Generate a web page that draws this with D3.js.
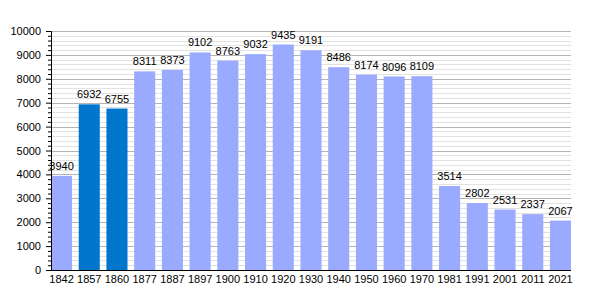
<!DOCTYPE html>
<html>
<head>
<meta charset="utf-8">
<script src="https://cdn.jsdelivr.net/npm/d3@7"></script>
<style>
body { margin: 0; background: #fff; }
text { font-family: "Liberation Sans", Arial, sans-serif; font-size: 11px; fill: #000; }
</style>
</head>
<body>
<div id="chart"></div>
<script>
var years = ["1842","1857","1860","1877","1887","1897","1900","1910","1920","1930","1940","1950","1960","1970","1981","1991","2001","2011","2021"];
var population = [3940,6932,6755,8311,8373,9102,8763,9032,9435,9191,8486,8174,8096,8109,3514,2802,2531,2337,2067];
var darkYears = ["1857","1860"];
var yTicks = [0,1000,2000,3000,4000,5000,6000,7000,8000,9000,10000];

var width = 600, height = 300;
var plotLeft = 51, plotRight = 571, plotTop = 31, plotBottom = 270;

var svg = d3.select("#chart").append("svg")
    .attr("width", width)
    .attr("height", height);

var x = d3.scaleBand()
    .domain(years)
    .range([plotLeft, plotRight])
    .paddingInner(0.24)
    .paddingOuter(0);

var y = d3.scaleLinear()
    .domain([0, 10000])
    .range([plotBottom, plotTop]);

// minor grid every 200
var minor = d3.range(0, 10001, 200).filter(function (v) { return v % 1000 != 0; });
svg.append("g").selectAll("line")
    .data(minor)
    .enter()
    .append("line")
    .attr("x1", plotLeft).attr("x2", plotRight)
    .attr("y1", function (d) { return Math.round(y(d)) + 0.5; })
    .attr("y2", function (d) { return Math.round(y(d)) + 0.5; })
    .style("stroke", "#e2e2e2");

svg.append("g").selectAll("line")
    .data(yTicks.slice(1))
    .enter()
    .append("line")
    .attr("x1", plotLeft).attr("x2", plotRight)
    .attr("y1", function (d) { return Math.round(y(d)) + 0.5; })
    .attr("y2", function (d) { return Math.round(y(d)) + 0.5; })
    .style("stroke", "#b4b4b4");

svg.selectAll(".bar")
    .data(population)
    .enter()
    .append("rect")
    .attr("class", "bar")
    .attr("x", function (d, i) { return x(years[i]); })
    .attr("y", function (d) { return y(d); })
    .attr("width", x.bandwidth())
    .attr("height", function (d) { return plotBottom - y(d); })
    .style("fill", function (d, i) { return darkYears.indexOf(years[i]) >= 0 ? "#0077cc" : "#99aaff"; });

svg.selectAll(".val")
    .data(population)
    .enter()
    .append("text")
    .attr("class", "val")
    .attr("x", function (d, i) { return x(years[i]) + x.bandwidth() / 2; })
    .attr("y", function (d) { return y(d) - 6; })
    .style("text-anchor", "middle")
    .text(function (d) { return d; });

// y axis with minor ticks
var yMinor = d3.axisLeft(y).tickValues(minor).tickSize(3).tickFormat("");
svg.append("g")
    .attr("transform", "translate(" + plotLeft + ",0)")
    .call(yMinor)
    .call(function (g) { g.select(".domain").remove(); });

var yAxis = d3.axisLeft(y).tickValues(yTicks).tickSize(5).tickPadding(5).tickFormat(d3.format("d"));
svg.append("g")
    .attr("class", "y axis")
    .attr("transform", "translate(" + plotLeft + ",0)")
    .call(yAxis)
    .call(function (g) {
        g.selectAll("text").style("font-size", "11px").style("font-family", "Liberation Sans, Arial, sans-serif");
    });

var xAxis = d3.axisBottom(x).tickSize(0).tickPadding(5);
svg.append("g")
    .attr("class", "x axis")
    .attr("transform", "translate(0," + plotBottom + ")")
    .call(xAxis)
    .call(function (g) {
        g.select(".domain").attr("d", "M" + (plotLeft - 0.5) + ",0.5H" + plotRight);
        g.selectAll("text").style("font-size", "11px").style("font-family", "Liberation Sans, Arial, sans-serif");
    });
</script>
</body>
</html>
